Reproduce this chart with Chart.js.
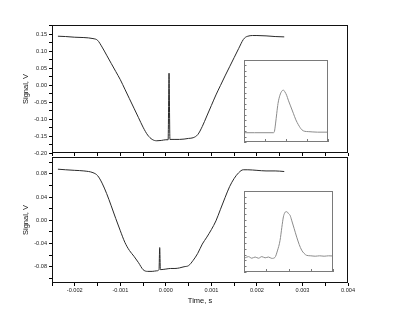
<!DOCTYPE html>
<html><head><meta charset="utf-8">
<script src="https://cdn.jsdelivr.net/npm/chart.js@4/dist/chart.umd.min.js"></script>
<style>
html,body{margin:0;padding:0;background:#fff;}
#wrap{position:relative;width:405px;height:336px;overflow:hidden;}
canvas{position:absolute;left:0;top:0;}
</style></head><body>
<div id="wrap">
<canvas id="c1" width="405" height="336"></canvas>
<canvas id="c2" width="405" height="336"></canvas>
<canvas id="c3" width="405" height="336"></canvas>
<canvas id="c4" width="405" height="336"></canvas>
</div>
<script>
// ---- Data ----
const timeMajorTicks = [-0.002,-0.001,0,0.001,0.002,0.003,0.004];
const timeMinorTicks = [-0.0025,-0.0015,-0.0005,0.0005,0.0015,0.0025,0.0035];
const topMajorTicks = [-0.20,-0.15,-0.10,-0.05,0.00,0.05,0.10,0.15];
const topMinorTicks = [-0.175,-0.125,-0.075,-0.025,0.025,0.075,0.125,0.175];
const botMajorTicks = [-0.08,-0.04,0.00,0.04,0.08];
const botMinorTicks = [-0.10,-0.06,-0.02,0.02,0.06,0.10];
const insetXTicks = [0,1,2,3,4];
const inset1YTicks = [0,1,2,3,4,5,6,7,8,9,10,11,12,13,14,15];
const inset2YTicks = [0,1,2,3,4,5,6,7,8,9,10,11,12,13,14];

const topTime = [-0.00237,-0.0022,-0.0020,-0.0018,-0.0016,-0.0015,-0.0014,-0.0013,-0.0012,-0.0011,-0.0010,-0.0009,-0.0008,-0.0007,-0.0006,-0.0005,-0.0004,-0.0003,-0.0002,-0.0001,0.0,0.00005,0.00007,0.00009,0.0002,0.0003,0.0004,0.0005,0.0006,0.0007,0.0008,0.0009,0.0010,0.0011,0.0012,0.0013,0.0014,0.0015,0.0016,0.0017,0.00175,0.0018,0.0019,0.0020,0.0022,0.0024,0.0026];
const topSignal = [0.144,0.143,0.141,0.140,0.137,0.132,0.112,0.088,0.064,0.040,0.016,-0.012,-0.040,-0.068,-0.096,-0.124,-0.147,-0.160,-0.164,-0.163,-0.161,-0.161,0.035,-0.160,-0.160,-0.160,-0.159,-0.157,-0.155,-0.146,-0.122,-0.091,-0.060,-0.029,-0.001,0.027,0.054,0.081,0.108,0.134,0.141,0.144,0.146,0.146,0.145,0.143,0.142];

const botTime = [-0.00237,-0.0022,-0.0020,-0.0018,-0.0016,-0.0015,-0.0014,-0.0013,-0.0012,-0.0011,-0.0010,-0.0009,-0.0008,-0.0007,-0.0006,-0.0005,-0.0004,-0.0003,-0.0002,-0.00015,-0.000135,-0.00012,0.0,0.0001,0.0002,0.0003,0.0004,0.0005,0.0006,0.0007,0.0008,0.0009,0.0010,0.0011,0.0012,0.0013,0.0014,0.0015,0.0016,0.0017,0.0018,0.0020,0.0022,0.0024,0.0026];
const botSignal = [0.088,0.087,0.086,0.085,0.082,0.077,0.064,0.046,0.025,0.003,-0.018,-0.038,-0.052,-0.062,-0.073,-0.085,-0.088,-0.088,-0.087,-0.085,-0.047,-0.085,-0.084,-0.083,-0.083,-0.082,-0.080,-0.078,-0.069,-0.057,-0.041,-0.029,-0.016,-0.001,0.019,0.039,0.058,0.072,0.082,0.087,0.087,0.086,0.085,0.085,0.084];

const inset1X = [0.05,0.5,1.0,1.4,1.45,1.5,1.56,1.62,1.71,1.8,1.87,1.95,2.03,2.11,2.2,2.35,2.47,2.59,2.75,2.9,3.06,3.5,4.0];
const inset1Y = [1.7,1.7,1.7,1.7,1.95,3.3,5.25,7.05,8.55,9.3,9.5,9.15,8.55,7.65,6.75,5.25,4.05,3.15,2.25,1.95,1.9,1.8,1.8];

const inset2X = [0.05,0.2,0.35,0.5,0.65,0.8,0.95,1.1,1.25,1.39,1.5,1.62,1.7,1.77,1.83,1.89,1.95,2.0,2.07,2.14,2.25,2.37,2.48,2.59,2.7,2.82,3.0,3.2,3.4,3.6,3.8,4.0];
const inset2Y = [2.45,2.66,2.38,2.59,2.38,2.66,2.45,2.59,2.35,2.52,3.64,5.46,7.7,9.52,10.22,10.43,10.36,10.08,9.8,8.96,7.56,6.02,4.76,3.78,3.22,2.87,2.8,2.73,2.8,2.73,2.8,2.77];

// ---- Helpers ----
const FONT = "'Liberation Sans', Arial, sans-serif";
function pts(xs, ys){ return xs.map((x,i)=>({x:x, y:ys[i]})); }
function isIn(v, arr){ return arr.some(a=>Math.abs(a-v)<1e-9); }
function frame(color, width){
  return {id:'frame', afterDraw(chart){
    const {ctx, chartArea:a} = chart;
    ctx.save(); ctx.strokeStyle=color; ctx.lineWidth=width;
    ctx.strokeRect(Math.round(a.left)+0.5, Math.round(a.top)+0.5, Math.round(a.right-a.left)-1, Math.round(a.bottom-a.top)-1);
    ctx.restore();
  }};
}
// inward tick marks for the insets, placed through the chart's own scales
const innerTicks = {id:'innerTicks', afterDraw(chart){
  const {ctx, chartArea:a, scales} = chart;
  ctx.save(); ctx.strokeStyle='#7a7a7a'; ctx.lineWidth=1; ctx.beginPath();
  scales.x.ticks.forEach(t=>{ const px=Math.round(scales.x.getPixelForValue(t.value))+0.5; ctx.moveTo(px, a.bottom); ctx.lineTo(px, a.bottom-3); });
  scales.y.ticks.forEach(t=>{ const py=Math.round(scales.y.getPixelForValue(t.value))+0.5; ctx.moveTo(a.left, py); ctx.lineTo(a.left+2.5, py); });
  ctx.stroke(); ctx.restore();
}};
function axis(o){
  const all = o.major.concat(o.minor||[]).sort((a,b)=>a-b);
  return {
    type:'linear', min:o.min, max:o.max, position:o.position,
    afterBuildTicks: s => { s.ticks = all.map(v=>({value:v})); },
    afterFit: s => { if (o.position==='left') s.width = o.size; else s.height = o.size; },
    border:{display:false},
    grid:{drawOnChartArea:false, drawTicks:o.tickLength>0, tickLength:Math.max(o.tickLength,0), tickColor:o.tickColor||'#000', tickWidth:1},
    ticks:{display:o.labels!==false, autoSkip:false, maxRotation:0, padding:o.pad||2, color:'#222',
      font:{family:FONT, size:5.6},
      callback:(v)=> (o.labels!==false && isIn(v,o.major)) ? o.fmt(v) : ''},
    title: o.title ? {display:true, text:o.title, color:'#111', font:{family:FONT, size:7.5}, padding:o.titlePad} : {display:false}
  };
}
function mainChart(id, xs, ys, yAxis, xAxis, pad){
  return new Chart(document.getElementById(id), {
    type:'line',
    data:{datasets:[{data:pts(xs,ys), borderColor:'#2a2a2a', borderWidth:1, pointRadius:0, cubicInterpolationMode:'monotone', fill:false}]},
    options:{responsive:false, animation:false, devicePixelRatio:1,
      layout:{padding:pad},
      plugins:{legend:{display:false}, tooltip:{enabled:false}},
      scales:{x:xAxis, y:yAxis}},
    plugins:[frame('#111',1)]
  });
}
const fmtTime = v => (Math.abs(v)<1e-12 ? 0 : v).toFixed(3);
const fmt2 = v => (Math.abs(v)<1e-12 ? 0 : v).toFixed(2);

// Top main panel
mainChart('c1', topTime, topSignal,
  axis({min:-0.20, max:0.177, position:'left', major:topMajorTicks, minor:topMinorTicks, size:52, tickLength:3, fmt:fmt2, title:'Signal, V', titlePad:{top:21}}),
  axis({min:-0.0025, max:0.004, position:'bottom', major:timeMajorTicks, minor:timeMinorTicks, size:4, tickLength:3, labels:false, fmt:fmtTime}),
  {left:0, top:25, right:57, bottom:179});

// Bottom main panel
mainChart('c2', botTime, botSignal,
  axis({min:-0.108, max:0.109, position:'left', major:botMajorTicks, minor:botMinorTicks, size:52, tickLength:3, fmt:fmt2, title:'Signal, V', titlePad:{top:21}}),
  axis({min:-0.0025, max:0.004, position:'bottom', major:timeMajorTicks, minor:timeMinorTicks, size:24, tickLength:3, pad:1.4, fmt:fmtTime, title:'Time, s', titlePad:{bottom:1.5}}),
  {left:0, top:157, right:57, bottom:29});

// Insets
function insetChart(id, xs, ys, yTicks, yMax, pad){
  return new Chart(document.getElementById(id), {
    type:'line',
    data:{datasets:[{data:pts(xs,ys), borderColor:'#8c8c8c', borderWidth:1, pointRadius:0, cubicInterpolationMode:'monotone', fill:false}]},
    options:{responsive:false, animation:false, devicePixelRatio:1,
      layout:{padding:pad},
      plugins:{legend:{display:false}, tooltip:{enabled:false}},
      scales:{
        x: axis({min:0, max:4, position:'bottom', major:insetXTicks, size:0, tickLength:0, labels:false, fmt:String}),
        y: axis({min:0, max:yMax, position:'left', major:yTicks, size:0, tickLength:0, labels:false, fmt:String})
      }},
    plugins:[frame('#7a7a7a',1), innerTicks]
  });
}
insetChart('c3', inset1X, inset1Y, inset1YTicks, 15, {left:244, top:60, right:77, bottom:194});
insetChart('c4', inset2X, inset2Y, inset2YTicks, 14, {left:244, top:191, right:72, bottom:64});
</script>
</body></html>
